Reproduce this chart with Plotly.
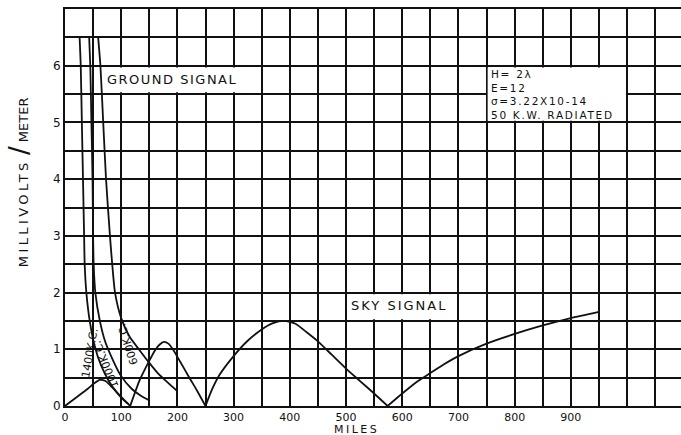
import plotly.graph_objects as go

# ---------------- data ----------------
# Ground signal curves (miles, millivolts/meter)
g1400_x = [26, 28, 30, 32, 34, 35, 38, 44, 53, 64, 78, 92, 105, 112]
g1400_y = [6.5, 6.0, 5.0, 4.0, 3.0, 2.5, 2.0, 1.5, 1.05, 0.72, 0.44, 0.24, 0.10, 0.04]

g1000_x = [43, 45, 47, 49, 50, 51, 54, 62, 71, 82, 99, 119, 135, 150]
g1000_y = [6.5, 6.0, 5.0, 4.0, 3.0, 2.5, 2.0, 1.5, 1.15, 0.88, 0.54, 0.30, 0.18, 0.10]

g600_x = [59, 63, 68, 73, 80, 84, 89, 100, 115, 133, 150, 165, 182, 200]
g600_y = [6.5, 6.0, 5.0, 4.0, 3.0, 2.5, 2.0, 1.55, 1.22, 0.98, 0.76, 0.58, 0.42, 0.26]

# Sky signal, drawn as four arcs between the nulls
sky1_x = [0, 20, 40, 52, 62, 72, 85, 100, 116]
sky1_y = [0.0, 0.15, 0.30, 0.40, 0.46, 0.44, 0.32, 0.16, 0.0]

sky2_x = [116, 133, 148, 160, 168, 176, 184, 192, 205, 220, 235, 250]
sky2_y = [0.0, 0.46, 0.76, 0.98, 1.08, 1.13, 1.10, 1.00, 0.78, 0.52, 0.27, 0.0]

sky3_x = [250, 262, 275, 300, 325, 350, 370, 390, 410, 430, 450, 475, 500, 525, 550, 574]
sky3_y = [0.0, 0.30, 0.55, 0.88, 1.15, 1.35, 1.46, 1.50, 1.45, 1.30, 1.14, 0.90, 0.66, 0.44, 0.22, 0.0]

sky4_x = [574, 600, 625, 650, 675, 700, 750, 800, 850, 900, 950]
sky4_y = [0.0, 0.22, 0.42, 0.58, 0.74, 0.88, 1.10, 1.27, 1.42, 1.55, 1.66]

# Axis ticks / grid
x_grid_vals = [0, 50, 100, 150, 200, 250, 300, 350, 400, 450, 500, 550,
               600, 650, 700, 750, 800, 850, 900, 950, 1000, 1050]
x_label_vals = [0, 100, 200, 300, 400, 500, 600, 700, 800, 900]
x_tick_labels = ["0", "100", "200", "300", "400", "500", "600", "700", "800", "900"]

y_grid_vals = [0, 0.5, 1, 1.5, 2, 2.5, 3, 3.5, 4, 4.5, 5, 5.5, 6, 6.5, 7]
y_label_vals = [0, 1, 2, 3, 4, 5, 6]
y_tick_labels = ["0", "1", "2", "3", "4", "5", "6"]

legend_lines = ["H= 2λ", "E=12", "σ=3.22X10-14", "50 K.W. RADIATED"]

curve_labels = ["1400K.C.", "1000K.C.", "600K.C."]
curve_label_x = [44, 72, 112]
curve_label_y = [0.93, 0.74, 1.10]
curve_label_angle = [-80, -112, -108]

# ---------------- figure ----------------
FONT = "DejaVu Sans"
INK = "#111111"

fig = go.Figure()

line_style = dict(color=INK, width=1.8, shape="spline", smoothing=0.6)
for xs, ys in [(g1400_x, g1400_y), (g1000_x, g1000_y), (g600_x, g600_y),
               (sky1_x, sky1_y), (sky2_x, sky2_y), (sky3_x, sky3_y), (sky4_x, sky4_y)]:
    fig.add_trace(go.Scatter(x=xs, y=ys, mode="lines", line=line_style,
                             hoverinfo="skip", showlegend=False))

x_ticktext = [x_tick_labels[x_label_vals.index(v)] if v in x_label_vals else "" for v in x_grid_vals]
y_ticktext = [y_tick_labels[y_label_vals.index(v)] if v in y_label_vals else "" for v in y_grid_vals]

fig.update_layout(
    width=681, height=435,
    margin=dict(l=65, r=0, t=9, b=29),
    paper_bgcolor="white", plot_bgcolor="white",
    font=dict(family=FONT, color=INK),
    showlegend=False,
    xaxis=dict(range=[0, 1096], tickmode="array", tickvals=x_grid_vals, ticktext=x_ticktext,
               showgrid=True, gridcolor=INK, gridwidth=1.7, zeroline=False,
               showline=True, linecolor=INK, linewidth=2, mirror=True,
               ticks="", tickfont=dict(size=11, family=FONT, color=INK), fixedrange=True),
    yaxis=dict(range=[0, 7.0], tickmode="array", tickvals=y_grid_vals, ticktext=y_ticktext,
               showgrid=True, gridcolor=INK, gridwidth=1.7, zeroline=False,
               showline=True, linecolor=INK, linewidth=2, mirror=False,
               ticks="", tickfont=dict(size=12, family=FONT, color=INK), fixedrange=True),
)

# white label boxes that interrupt the grid
fig.add_shape(type="rect", xref="x", yref="y", x0=68, x1=310, y0=5.53, y1=5.97,
              fillcolor="white", line=dict(width=0), layer="between")
fig.add_shape(type="rect", xref="x", yref="y", x0=503, x1=695, y0=1.53, y1=1.97,
              fillcolor="white", line=dict(width=0), layer="between")
fig.add_shape(type="rect", xref="x", yref="y", x0=752, x1=998, y0=5.03, y1=5.97,
              fillcolor="white", line=dict(width=0), layer="between")

fig.add_annotation(x=191, y=5.76, xref="x", yref="y", showarrow=False,
                   text="<span style='letter-spacing:1.5px'>GROUND SIGNAL</span>",
                   font=dict(size=13, family=FONT, color=INK))
fig.add_annotation(x=595, y=1.77, xref="x", yref="y", showarrow=False,
                   text="<span style='letter-spacing:2px'>SKY SIGNAL</span>",
                   font=dict(size=13, family=FONT, color=INK))

fig.add_annotation(x=754, y=5.49, xref="x", yref="y", showarrow=False,
                   xanchor="left", yanchor="middle", align="left",
                   text="<span style='letter-spacing:1.7px'>" + "<br>".join(legend_lines) + "</span>",
                   font=dict(size=10.5, family=FONT, color=INK))

for txt, xx, yy, ang in zip(curve_labels, curve_label_x, curve_label_y, curve_label_angle):
    fig.add_annotation(x=xx, y=yy, xref="x", yref="y", showarrow=False,
                       text=txt, textangle=ang,
                       font=dict(size=11, family=FONT, color=INK))

# axis titles
fig.add_annotation(x=-0.102, y=3.95, xref="paper", yref="y", showarrow=False,
                   textangle=-90,
                   text="<span style='letter-spacing:3.4px'>MILLIVOLTS</span> "
                        "<span style='font-size:26px'>/</span> METER",
                   font=dict(size=13, family=FONT, color=INK))
fig.add_annotation(x=518, y=-0.06, xref="x", yref="paper", showarrow=False,
                   yanchor="middle",
                   text="<span style='letter-spacing:2.5px'>MILES</span>",
                   font=dict(size=11, family=FONT, color=INK))

fig.write_html("out.html", config={"responsive": False, "displayModeBar": False},
               post_script="document.body.style.margin='0';document.body.style.overflow='hidden';")
